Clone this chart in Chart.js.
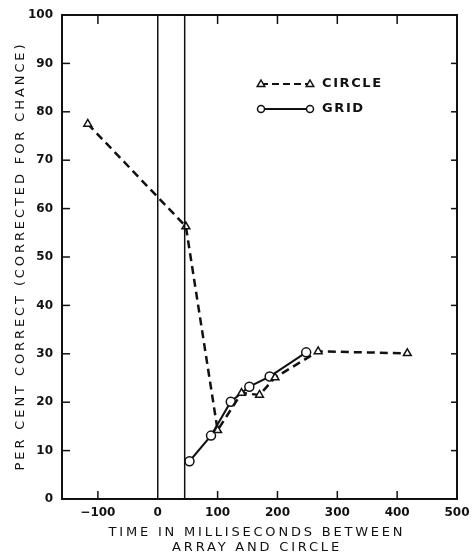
<!DOCTYPE html>
<html>
<head>
<meta charset="utf-8">
<script src="https://cdn.jsdelivr.net/npm/chart.js@4.4.1/dist/chart.umd.min.js"></script>
<style>
  html, body { margin: 0; padding: 0; background: #fff; }
  #wrap { width: 474px; height: 558px; }
</style>
</head>
<body>
<div id="wrap"><canvas id="perfChart"></canvas></div>
<script>
// values
const circleX = [-117, 47, 100, 140, 170, 196, 268, 417];
const circleY = [77.5, 56.3, 14.2, 21.9, 21.5, 25.1, 30.5, 30.1];
const gridX = [53, 89, 122, 153, 187, 248];
const gridY = [7.8, 13.1, 20.1, 23.2, 25.3, 30.3];
const xTicks = [-100, 0, 100, 200, 300, 400, 500];
const yTicks = [0, 10, 20, 30, 40, 50, 60, 70, 80, 90, 100];
const markerLines = [0, 45];
const yTitle = 'PER CENT CORRECT (CORRECTED FOR CHANCE)';
const xTitle = ['TIME IN MILLISECONDS BETWEEN', 'ARRAY AND CIRCLE'];

const ink = '#111';

function pts(xs, ys) {
  return xs.map((x, i) => ({ x: x, y: ys[i] }));
}

const decor = {
  id: 'decor',
  afterDatasetsDraw(chart) {
    const ctx = chart.ctx;
    const a = chart.chartArea;
    const xs = chart.scales.x, ys = chart.scales.y;
    ctx.save();
    ctx.strokeStyle = ink;
    // frame
    ctx.lineWidth = 2;
    ctx.strokeRect(a.left, a.top, a.right - a.left, a.bottom - a.top);
    // vertical reference lines
    ctx.lineWidth = 1.5;
    markerLines.forEach(v => {
      const px = xs.getPixelForValue(v);
      ctx.beginPath(); ctx.moveTo(px, a.top); ctx.lineTo(px, a.bottom); ctx.stroke();
    });
    // inward ticks
    xTicks.forEach(v => {
      if (v === 0 || v === 500) return;
      const px = xs.getPixelForValue(v);
      ctx.beginPath(); ctx.moveTo(px, a.bottom); ctx.lineTo(px, a.bottom - 8); ctx.stroke();
      ctx.beginPath(); ctx.moveTo(px, a.top); ctx.lineTo(px, a.top + 9); ctx.stroke();
    });
    yTicks.forEach(v => {
      if (v === 0 || v === 100) return;
      const py = ys.getPixelForValue(v);
      ctx.beginPath(); ctx.moveTo(a.left, py); ctx.lineTo(a.left + 8, py); ctx.stroke();
      ctx.beginPath(); ctx.moveTo(a.right, py); ctx.lineTo(a.right - 6, py); ctx.stroke();
    });

    // legend
    ctx.fillStyle = ink;
    ctx.font = 'bold 13px "DejaVu Sans"';
    ctx.textBaseline = 'middle';
    ctx.textAlign = 'left';
    const lx0 = a.left + 199, lx1 = a.left + 248;
    let ly = a.top + 69;
    ctx.lineWidth = 2;
    ctx.setLineDash([7, 4]);
    ctx.beginPath(); ctx.moveTo(lx0, ly); ctx.lineTo(lx1, ly); ctx.stroke();
    ctx.setLineDash([]);
    [lx0, lx1].forEach(px => {
      ctx.fillStyle = '#fff';
      ctx.beginPath();
      ctx.moveTo(px, ly - 4); ctx.lineTo(px + 3.8, ly + 2.6); ctx.lineTo(px - 3.8, ly + 2.6); ctx.closePath();
      ctx.fill(); ctx.lineWidth = 1.5; ctx.stroke();
    });
    ctx.fillStyle = ink;
    ctx.letterSpacing = '1.6px';
    ctx.fillText('CIRCLE', lx1 + 12, ly);
    ly += 25;
    ctx.lineWidth = 2;
    ctx.beginPath(); ctx.moveTo(lx0, ly); ctx.lineTo(lx1, ly); ctx.stroke();
    [lx0, lx1].forEach(px => {
      ctx.fillStyle = '#fff';
      ctx.beginPath(); ctx.arc(px, ly, 3.5, 0, Math.PI * 2);
      ctx.fill(); ctx.lineWidth = 1.5; ctx.stroke();
    });
    ctx.fillStyle = ink;
    ctx.fillText('GRID', lx1 + 12, ly);

    // axis titles
    ctx.font = '13px "DejaVu Sans"';
    ctx.textAlign = 'center';
    ctx.letterSpacing = '2.9px';
    ctx.save();
    ctx.translate(21, 256);
    ctx.rotate(-Math.PI / 2);
    ctx.fillText(yTitle, 0, 0);
    ctx.restore();
    ctx.letterSpacing = '2.8px';
    ctx.fillText(xTitle[0], 257, 533);
    ctx.fillText(xTitle[1], 257, 548);
    ctx.restore();
  }
};

const ctx = document.getElementById('perfChart').getContext('2d');

const perfChart = new Chart(ctx, {
  type: 'scatter',
  data: {
    datasets: [{
      label: 'CIRCLE',
      data: pts(circleX, circleY),
      showLine: true,
      borderColor: ink,
      borderWidth: 2.5,
      borderDash: [8, 5],
      pointStyle: 'triangle',
      pointRadius: 4.5,
      pointBorderWidth: 1.5,
      pointBackgroundColor: '#fff',
      pointBorderColor: ink
    },
    {
      label: 'GRID',
      data: pts(gridX, gridY),
      showLine: true,
      borderColor: ink,
      borderWidth: 2,
      pointStyle: 'circle',
      pointRadius: 4.5,
      pointBorderWidth: 1.5,
      pointBackgroundColor: '#fff',
      pointBorderColor: ink
    }]
  },
  options: {
    responsive: true,
    maintainAspectRatio: false,
    animation: false,
    layout: { padding: { top: 15, right: 17, left: 0, bottom: 0 } },
    scales: {
      x: {
        type: 'linear',
        min: -160,
        max: 500,
        afterBuildTicks: s => { s.ticks = xTicks.map(v => ({ value: v })); },
        afterFit: s => { s.height = 59; s.paddingRight = 0; s.paddingLeft = 0; },
        grid: { display: false, drawTicks: false },
        border: { display: false },
        ticks: { color: ink, font: { family: 'DejaVu Sans', size: 12, weight: 'bold' }, padding: 7, maxRotation: 0, autoSkip: false,
                 callback: v => v < 0 ? '\u2212' + Math.abs(v) : '' + v }
      },
      y: {
        type: 'linear',
        min: 0,
        max: 100,
        afterBuildTicks: s => { s.ticks = yTicks.map(v => ({ value: v })); },
        afterFit: s => { s.width = 62; s.paddingTop = 0; s.paddingBottom = 0; },
        grid: { display: false, drawTicks: false },
        border: { display: false },
        ticks: { color: ink, font: { family: 'DejaVu Sans', size: 12, weight: 'bold' }, padding: 9, autoSkip: false }
      }
    },
    plugins: {
      legend: { display: false },
      tooltip: { enabled: false }
    }
  },
  plugins: [decor]
});
</script>
</body>
</html>
